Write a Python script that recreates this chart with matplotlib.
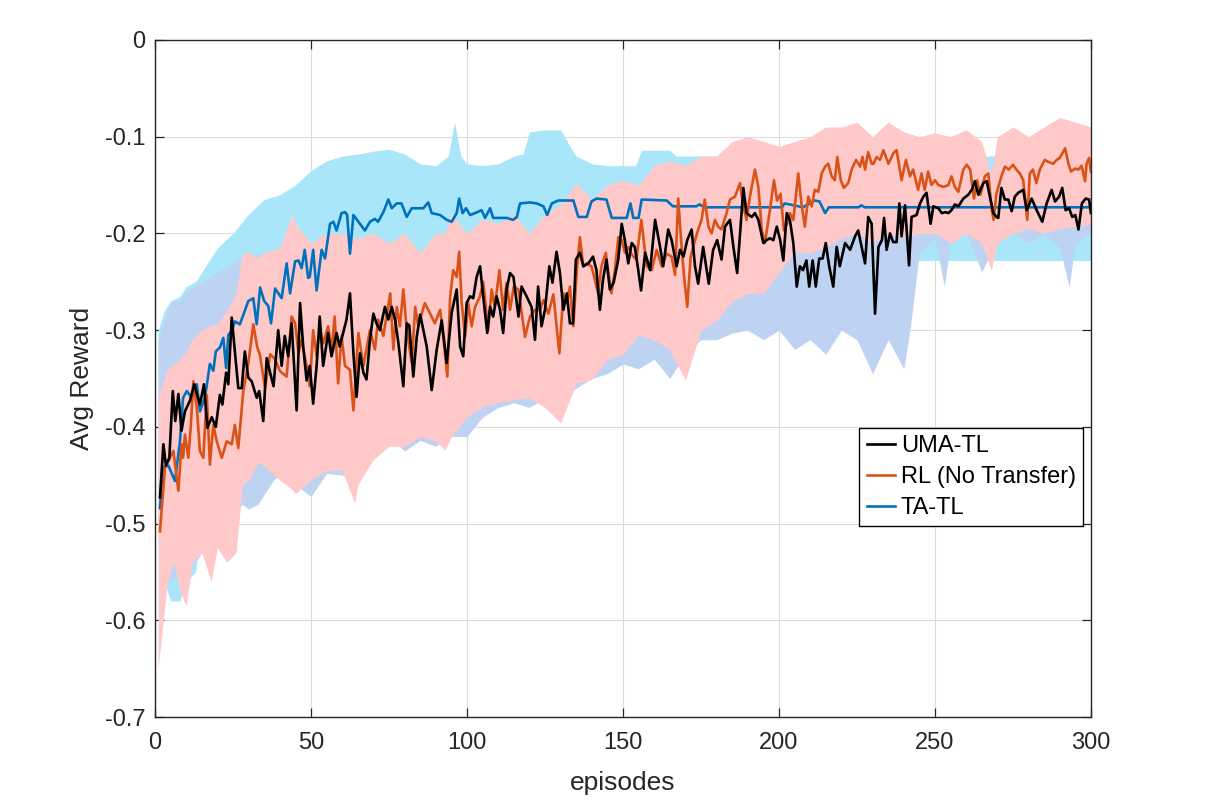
import matplotlib
matplotlib.use('Agg')
import matplotlib.pyplot as plt
from matplotlib.ticker import FuncFormatter

plt.rcParams['font.family'] = ['Liberation Sans', 'DejaVu Sans']
plt.rcParams['axes.unicode_minus'] = False

# ---- mean curves (episode, avg reward) ----
uma_ep = [1.6, 2.7, 3.5, 4.6, 5.7, 6.5, 7.5, 8.5, 9.6, 11.2, 12.6, 14.4, 15.7, 16.8, 18.2, 19.5,
          20.8, 21.6, 22.8, 23.5, 24.6, 25.6, 26.7, 27.8, 28.8, 29.9, 31, 32.6, 33.4, 34.7, 35.8,
          36.9, 38, 39.5, 40.6, 41.6, 42.7, 43.8, 45.4, 46.5, 47.5, 48.6, 49.6, 50.7, 51.8, 52.8,
          53.9, 55.5, 56.6, 58.2, 59.2, 61.4, 62.5, 63.6, 64.6, 65.7, 66.8, 67.8, 68.9, 70, 71,
          72.1, 73.7, 74.8, 75.9, 77, 78, 79.6, 80.7, 81.5, 82.8, 83.9, 85, 87.1, 88.7, 90.3, 91.9,
          93.5, 95.1, 96.7, 97.8, 98.8, 99.9, 101, 102, 103.1, 104.2, 105.2, 106.5, 107.4, 108.4,
          109.5, 110.6, 111.6, 112.7, 113.8, 114.9, 116.5, 117.5, 119.1, 120.7, 121.8, 122.8, 123.9,
          125, 126.4, 127.4, 128.7, 129.8, 130.9, 132, 133, 134, 134.9, 136.2, 137.3, 138.9, 140.4,
          141.5, 142.6, 143.6, 144.7, 145.8, 147, 148.5, 149.6, 150.6, 151.7, 152.8, 153.8, 154.9,
          155.8, 157.1, 158.7, 160.3, 161.9, 162.9, 164.5, 165.6, 167.2, 168.3, 169.4, 170.6, 172,
          173.1, 174.1, 175.7, 177.5, 178.9, 180.2, 181.6, 182.7, 184.3, 185.4, 186.6, 188.6, 189.6,
          191.3, 192.3, 193.4, 195, 196, 197.1, 198.2, 199.3, 200.4, 201.4, 202.5, 203.5, 204.6,
          205.7, 206.7, 207.7, 208.8, 209.7, 210.8, 211.8, 212.9, 214, 215, 216.1, 217.4, 218.5,
          219.5, 221.2, 222.8, 224.4, 225.4, 226.5, 227.6, 228.6, 229.7, 230.8, 231.9, 233, 233.7,
          234.5, 235.6, 236.6, 237.7, 238.6, 239.3, 240.4, 241.7, 242.5, 244.1, 245.2, 246.3, 247.3,
          248.6, 249.5, 251.1, 252.2, 253.3, 254.3, 255.3, 256.4, 257.5, 259.1, 260.7, 261.8, 262.8,
          263.9, 265.5, 266.6, 267.6, 268.7, 269.7, 270.3, 271.3, 272.4, 273.5, 274.6, 275.6, 276.7,
          278.3, 279.4, 281, 282.6, 284.4, 285.8, 287.4, 288.5, 289.8, 290.8, 291.9, 293, 294, 295,
          296, 297.1, 298.3, 299.4, 300]
uma_val = [-0.473, -0.418, -0.44, -0.432, -0.363, -0.394, -0.366, -0.404, -0.384, -0.373, -0.356,
           -0.377, -0.356, -0.401, -0.39, -0.40, -0.367, -0.377, -0.344, -0.356, -0.287, -0.322,
           -0.36, -0.36, -0.322, -0.349, -0.353, -0.37, -0.363, -0.394, -0.329, -0.344, -0.358,
           -0.3, -0.337, -0.306, -0.327, -0.293, -0.383, -0.272, -0.317, -0.352, -0.337, -0.376,
           -0.337, -0.286, -0.337, -0.303, -0.327, -0.303, -0.317, -0.289, -0.262, -0.324, -0.369,
           -0.324, -0.344, -0.351, -0.31, -0.283, -0.293, -0.3, -0.276, -0.289, -0.276, -0.29,
           -0.313, -0.358, -0.293, -0.295, -0.348, -0.307, -0.284, -0.317, -0.362, -0.32, -0.29,
           -0.334, -0.282, -0.258, -0.317, -0.327, -0.272, -0.265, -0.267, -0.245, -0.234, -0.265,
           -0.303, -0.276, -0.286, -0.265, -0.279, -0.303, -0.258, -0.241, -0.245, -0.286, -0.255,
           -0.265, -0.276, -0.31, -0.255, -0.296, -0.279, -0.234, -0.251, -0.219, -0.241, -0.279,
           -0.262, -0.293, -0.293, -0.227, -0.22, -0.234, -0.231, -0.224, -0.238, -0.279, -0.248,
           -0.227, -0.258, -0.251, -0.227, -0.19, -0.207, -0.231, -0.21, -0.214, -0.238, -0.259,
           -0.22, -0.238, -0.186, -0.214, -0.234, -0.196, -0.207, -0.234, -0.217, -0.224, -0.207,
           -0.196, -0.234, -0.252, -0.214, -0.252, -0.217, -0.207, -0.227, -0.193, -0.186, -0.214,
           -0.241, -0.153, -0.179, -0.183, -0.179, -0.186, -0.21, -0.207, -0.205, -0.207, -0.193,
           -0.207, -0.228, -0.179, -0.186, -0.21, -0.255, -0.234, -0.238, -0.228, -0.255, -0.228,
           -0.255, -0.226, -0.226, -0.21, -0.234, -0.255, -0.214, -0.234, -0.21, -0.217, -0.203,
           -0.197, -0.214, -0.231, -0.183, -0.19, -0.283, -0.214, -0.207, -0.184, -0.217, -0.2,
           -0.209, -0.209, -0.169, -0.203, -0.171, -0.233, -0.183, -0.181, -0.169, -0.162, -0.158,
           -0.19, -0.172, -0.174, -0.179, -0.178, -0.179, -0.176, -0.17, -0.172, -0.164, -0.16,
           -0.155, -0.146, -0.16, -0.148, -0.146, -0.162, -0.179, -0.183, -0.184, -0.153, -0.165,
           -0.165, -0.177, -0.162, -0.158, -0.155, -0.176, -0.164, -0.176, -0.188, -0.169, -0.155,
           -0.167, -0.162, -0.153, -0.176, -0.174, -0.183, -0.181, -0.196, -0.169, -0.164, -0.165,
           -0.179]

rl_ep = [1.6, 3.2, 4.8, 5.9, 7.5, 8.5, 9, 9.6, 10.7, 11.5, 12.3, 13.4, 14.4, 15.5, 16.6, 17.6, 18.7,
         19.8, 21.4, 23, 24.6, 25.6, 26.7, 28.3, 29.9, 31.5, 32.8, 33.6, 35.3, 36.9, 38.5, 40, 41,
         42.2, 43.8, 44.9, 46, 47, 48.6, 49.6, 50.7, 51.8, 52.8, 53.9, 55.5, 56.6, 57.6, 58.7, 59.8,
         60.9, 62.5, 63.6, 65.2, 66.8, 68.9, 70.5, 71.5, 73.2, 75.4, 76.4, 77.5, 78.5, 79.6, 80.7,
         82.3, 83.4, 84.4, 85.5, 86.5, 88.2, 89.7, 91.4, 92.4, 93.7, 94.6, 95.6, 96.7, 97.5, 98.3,
         99.4, 100.4, 101.5, 102.6, 104.2, 105.2, 106.8, 107.9, 108.9, 110.4, 111.6, 112.7, 113.8,
         115, 116.5, 118.6, 120.2, 121.8, 123.4, 124.5, 126.1, 127.7, 129.6, 130.9, 132, 133, 134.1,
         135.2, 136.2, 137.3, 138.4, 139.9, 141, 142, 143.1, 144.5, 145.2, 146.3, 147.4, 148.5,
         149.6, 150.6, 151.7, 152.8, 154.3, 155.9, 157.6, 159.2, 160.8, 162.4, 164, 165.6, 166.7,
         167.7, 168.8, 169.6, 170.6, 171.7, 173.1, 174.1, 175.2, 176.2, 177.4, 178.4, 179.5, 180.5,
         181.6, 183.2, 184.3, 185.9, 187.5, 188.6, 189.6, 190.7, 192.3, 193.4, 194.5, 195.5, 197.1,
         198.4, 199.4, 200.5, 201.6, 202.6, 203.5, 204.6, 206.2, 207.2, 208.3, 209.4, 210.5, 211.5,
         212.6, 213.7, 214.8, 215.8, 216.9, 217.9, 218.7, 219.8, 220.8, 222.2, 223.3, 224.7, 226,
         226.8, 227.6, 228.6, 229.7, 230.3, 231.3, 232.4, 233.5, 235.1, 236.7, 237.7, 239.3, 240.7,
         242, 243, 244.6, 245.7, 246.7, 247.8, 248.9, 250, 251.1, 252.7, 254.3, 255.3, 256.4, 257.5,
         259.1, 260.2, 261.3, 262.5, 263.5, 264.6, 266, 267.1, 268.2, 268.8, 269.7, 271.3, 272.4,
         273.7, 275, 276.1, 277.2, 278.3, 279.6, 280.4, 281.4, 282.5, 283.6, 285.2, 286.3, 287.9,
         289, 290, 291.7, 292.8, 293.6, 294.9, 296, 297, 298.1, 298.6, 299.4, 300]
rl_val = [-0.508, -0.442, -0.432, -0.425, -0.466, -0.418, -0.432, -0.408, -0.432, -0.398, -0.353,
          -0.38, -0.425, -0.432, -0.367, -0.439, -0.398, -0.415, -0.432, -0.415, -0.418, -0.398,
          -0.422, -0.363, -0.335, -0.294, -0.318, -0.325, -0.36, -0.325, -0.33, -0.342, -0.345,
          -0.348, -0.286, -0.293, -0.324, -0.31, -0.337, -0.358, -0.3, -0.327, -0.296, -0.314,
          -0.296, -0.32, -0.286, -0.355, -0.306, -0.337, -0.341, -0.383, -0.303, -0.337, -0.3,
          -0.32, -0.289, -0.306, -0.262, -0.32, -0.276, -0.296, -0.258, -0.3, -0.334, -0.276,
          -0.296, -0.283, -0.272, -0.283, -0.293, -0.279, -0.307, -0.348, -0.265, -0.238, -0.245,
          -0.219, -0.272, -0.307, -0.272, -0.296, -0.276, -0.265, -0.25, -0.3, -0.258, -0.276,
          -0.238, -0.279, -0.251, -0.279, -0.255, -0.258, -0.307, -0.286, -0.279, -0.279, -0.269,
          -0.283, -0.263, -0.324, -0.262, -0.272, -0.255, -0.296, -0.238, -0.204, -0.234, -0.231,
          -0.234, -0.248, -0.262, -0.234, -0.22, -0.238, -0.262, -0.238, -0.204, -0.207, -0.22,
          -0.214, -0.222, -0.227, -0.186, -0.234, -0.238, -0.217, -0.234, -0.221, -0.224, -0.243,
          -0.164, -0.214, -0.245, -0.276, -0.224, -0.207, -0.196, -0.186, -0.165, -0.193, -0.2,
          -0.186, -0.193, -0.196, -0.179, -0.165, -0.162, -0.148, -0.172, -0.186, -0.162, -0.134,
          -0.152, -0.197, -0.21, -0.176, -0.145, -0.166, -0.159, -0.197, -0.19, -0.179, -0.186,
          -0.138, -0.169, -0.193, -0.162, -0.172, -0.155, -0.157, -0.138, -0.131, -0.128, -0.141,
          -0.145, -0.121, -0.145, -0.153, -0.148, -0.134, -0.124, -0.131, -0.121, -0.134, -0.116,
          -0.128, -0.128, -0.121, -0.124, -0.114, -0.128, -0.117, -0.114, -0.145, -0.124, -0.141,
          -0.134, -0.155, -0.138, -0.155, -0.136, -0.15, -0.145, -0.15, -0.152, -0.15, -0.141,
          -0.152, -0.157, -0.134, -0.129, -0.134, -0.164, -0.145, -0.16, -0.141, -0.138, -0.175,
          -0.186, -0.159, -0.141, -0.131, -0.134, -0.129, -0.134, -0.138, -0.145, -0.186, -0.138,
          -0.134, -0.148, -0.134, -0.124, -0.126, -0.128, -0.124, -0.122, -0.112, -0.128, -0.136,
          -0.133, -0.134, -0.13, -0.146, -0.128, -0.122, -0.136]

ta_ep = [1.6, 2.7, 4.3, 6.4, 8, 9, 10.2, 11.8, 13.4, 14.4, 16, 17.6, 18.7, 19.5, 20.8, 21.9, 22.8,
         23.5, 24.6, 25.6, 27.2, 28.8, 29.9, 31.5, 32.6, 33.7, 35, 36.3, 37.2, 38.5, 40.6, 42.2,
         43.3, 44.9, 46, 47, 48, 49.1, 49.6, 50.7, 51.8, 53.4, 54.5, 56.1, 57.2, 58.2, 59.8, 60.9,
         61.6, 62.5, 63.6, 65.2, 67.3, 68.9, 70.5, 71.5, 73.2, 74.8, 75.9, 77.5, 79, 80.7, 82.3, 86,
         87.6, 88.7, 91.4, 93.5, 95.1, 96.7, 97.5, 98.6, 99.7, 101, 102.6, 104.7, 105.8, 107.4,
         108.4, 112.7, 114.8, 116, 117, 120.2, 122.3, 124.5, 125.7, 127.2, 129.3, 134.1, 135.7,
         138.4, 139.9, 141.5, 144.7, 146.4, 151.2, 152.4, 153.3, 155, 156, 164, 166, 173.5, 174.6,
         176, 201, 201.8, 207.7, 211.5, 213, 214.8, 216, 225.5, 226.4, 227.5, 300]
ta_val = [-0.484, -0.442, -0.44, -0.456, -0.415, -0.37, -0.363, -0.37, -0.356, -0.384, -0.37,
          -0.335, -0.342, -0.322, -0.318, -0.308, -0.339, -0.305, -0.301, -0.291, -0.294, -0.28,
          -0.27, -0.267, -0.294, -0.256, -0.27, -0.275, -0.293, -0.257, -0.267, -0.231, -0.262,
          -0.229, -0.228, -0.236, -0.217, -0.246, -0.245, -0.217, -0.259, -0.217, -0.226, -0.19,
          -0.188, -0.197, -0.179, -0.178, -0.181, -0.221, -0.181, -0.188, -0.197, -0.188, -0.185,
          -0.188, -0.178, -0.165, -0.174, -0.169, -0.169, -0.183, -0.174, -0.174, -0.168, -0.179,
          -0.181, -0.186, -0.188, -0.179, -0.164, -0.179, -0.174, -0.181, -0.179, -0.176, -0.184,
          -0.174, -0.184, -0.184, -0.186, -0.183, -0.169, -0.168, -0.169, -0.172, -0.181, -0.169,
          -0.166, -0.166, -0.183, -0.183, -0.167, -0.164, -0.165, -0.184, -0.184, -0.169, -0.184,
          -0.184, -0.165, -0.166, -0.172, -0.172, -0.17, -0.173, -0.173, -0.169, -0.173, -0.166,
          -0.167, -0.179, -0.173, -0.173, -0.171, -0.173, -0.173]

# ---- shaded bands (episode, lower, upper) ----
ta_band_ep = [1, 3, 5, 8, 10, 13, 15, 20, 25, 30, 35, 40, 45, 50, 55, 60, 65, 70, 75, 80,
              85, 90, 94, 96, 98, 100, 105, 110, 115, 118, 120, 125, 130, 133, 135, 140, 145, 150,
              154, 156, 160, 165, 167, 170, 180, 190, 200, 210, 220, 240, 260, 280, 300]
ta_hi = [-0.30, -0.28, -0.27, -0.265, -0.255, -0.25, -0.24, -0.215, -0.2, -0.18,
         -0.165, -0.16, -0.15, -0.135, -0.125, -0.12, -0.118, -0.115, -0.113, -0.118,
         -0.128, -0.13, -0.12, -0.085, -0.12, -0.128, -0.13, -0.128, -0.12, -0.118,
         -0.095, -0.093, -0.093, -0.11, -0.12, -0.128, -0.13, -0.13, -0.13, -0.114,
         -0.114, -0.114, -0.12, -0.12, -0.12, -0.12, -0.12, -0.12, -0.12, -0.12,
         -0.12, -0.12, -0.12]
ta_lo = [-0.50, -0.56, -0.58, -0.58, -0.56, -0.55, -0.5, -0.45, -0.42, -0.4,
         -0.38, -0.36, -0.33, -0.31, -0.29, -0.27, -0.25, -0.25, -0.25, -0.25,
         -0.25, -0.25, -0.25, -0.25, -0.25, -0.25, -0.25, -0.25, -0.25, -0.25,
         -0.25, -0.25, -0.25, -0.25, -0.25, -0.25, -0.25, -0.24, -0.235, -0.23,
         -0.228, -0.228, -0.228, -0.228, -0.228, -0.228, -0.228, -0.228, -0.228, -0.228,
         -0.228, -0.228, -0.228]

uma_band_ep = [1, 3, 5, 8, 10, 13, 15, 18, 20, 23, 25, 28, 30, 33, 35, 38, 40, 45, 50, 55,
               60, 65, 70, 75, 80, 85, 90, 95, 100, 105, 110, 115, 120, 125, 130, 135, 140, 145,
               150, 155, 160, 165, 170, 175, 180, 185, 190, 195, 200, 205, 210, 215, 220, 225,
               230, 235, 240, 242, 245, 250, 253, 255, 260, 265, 270, 275, 280, 285, 290, 293,
               295, 300]
uma_hi = [-0.31, -0.29, -0.27, -0.27, -0.26, -0.255, -0.25, -0.245, -0.24, -0.235,
          -0.23, -0.225, -0.23, -0.22, -0.225, -0.22, -0.22, -0.22, -0.23, -0.24,
          -0.24, -0.24, -0.23, -0.23, -0.24, -0.23, -0.23, -0.22, -0.22, -0.21,
          -0.21, -0.2, -0.2, -0.19, -0.19, -0.18, -0.18, -0.18, -0.17, -0.17,
          -0.16, -0.16, -0.16, -0.16, -0.15, -0.15, -0.15, -0.15, -0.15, -0.16,
          -0.16, -0.16, -0.16, -0.15, -0.15, -0.15, -0.15, -0.15, -0.14, -0.14,
          -0.14, -0.14, -0.14, -0.14, -0.14, -0.14, -0.14, -0.14, -0.14, -0.14,
          -0.14, -0.14]
uma_lo = [-0.52, -0.55, -0.56, -0.55, -0.54, -0.54, -0.53, -0.52, -0.5, -0.5,
          -0.49, -0.48, -0.485, -0.48, -0.47, -0.455, -0.45, -0.46, -0.472, -0.448,
          -0.45, -0.45, -0.42, -0.41, -0.425, -0.414, -0.42, -0.41, -0.41, -0.39,
          -0.38, -0.375, -0.38, -0.37, -0.37, -0.36, -0.35, -0.345, -0.335, -0.34,
          -0.33, -0.35, -0.325, -0.31, -0.31, -0.303, -0.3, -0.31, -0.3, -0.32,
          -0.31, -0.325, -0.3, -0.31, -0.345, -0.31, -0.34, -0.3, -0.22, -0.205,
          -0.255, -0.21, -0.2, -0.24, -0.205, -0.2, -0.21, -0.2, -0.215, -0.255,
          -0.21, -0.2]

rl_band_ep = [1, 2, 4, 6, 8, 10, 12, 15, 18, 20, 23, 26, 28, 30, 33, 35, 40, 44, 45, 50,
              55, 60, 64, 65, 70, 75, 80, 85, 90, 93, 95, 100, 105, 110, 115, 120, 125, 130,
              135, 140, 145, 150, 155, 160, 165, 170, 175, 180, 185, 190, 195, 200, 205, 210,
              215, 220, 225, 230, 235, 240, 245, 250, 255, 260, 265, 268, 270, 275, 280, 285,
              290, 295, 300]
rl_hi = [-0.37, -0.36, -0.34, -0.335, -0.33, -0.322, -0.31, -0.3, -0.295, -0.294,
         -0.28, -0.263, -0.22, -0.22, -0.225, -0.22, -0.215, -0.18, -0.19, -0.21,
         -0.2, -0.2, -0.205, -0.205, -0.2, -0.21, -0.2, -0.22, -0.2, -0.2,
         -0.18, -0.2, -0.185, -0.19, -0.18, -0.2, -0.18, -0.17, -0.148, -0.165,
         -0.15, -0.145, -0.15, -0.13, -0.125, -0.13, -0.12, -0.12, -0.105, -0.1,
         -0.105, -0.11, -0.105, -0.1, -0.09, -0.09, -0.085, -0.1, -0.085, -0.095,
         -0.1, -0.096, -0.1, -0.093, -0.105, -0.14, -0.1, -0.09, -0.1, -0.09,
         -0.08, -0.085, -0.09]
rl_lo = [-0.65, -0.62, -0.56, -0.54, -0.57, -0.585, -0.54, -0.53, -0.56, -0.525,
         -0.54, -0.53, -0.46, -0.455, -0.437, -0.44, -0.455, -0.465, -0.469, -0.455,
         -0.445, -0.445, -0.479, -0.46, -0.434, -0.42, -0.42, -0.41, -0.415, -0.424,
         -0.41, -0.39, -0.379, -0.375, -0.372, -0.37, -0.38, -0.396, -0.355, -0.351,
         -0.33, -0.325, -0.305, -0.31, -0.32, -0.352, -0.3, -0.29, -0.27, -0.262,
         -0.262, -0.24, -0.22, -0.22, -0.214, -0.205, -0.2, -0.21, -0.2, -0.205,
         -0.2, -0.2, -0.21, -0.2, -0.21, -0.238, -0.21, -0.2, -0.195, -0.2,
         -0.195, -0.193, -0.19]

x_ticks = [0, 50, 100, 150, 200, 250, 300]
y_ticks = [-0.7, -0.6, -0.5, -0.4, -0.3, -0.2, -0.1, 0]

fig = plt.figure(figsize=(12.08, 8.07), dpi=100)
ax = fig.add_axes([0.1283, 0.1115, 0.7748, 0.839])

# bands: cyan underneath, then light blue, pink on top
ax.fill_between(ta_band_ep, ta_lo, ta_hi, color='#aae6f9', linewidth=0, zorder=1)
ax.fill_between(uma_band_ep, uma_lo, uma_hi, color='#bed3f2', linewidth=0, zorder=2)
ax.fill_between(rl_band_ep, rl_lo, rl_hi, color='#ffc9c9', linewidth=0, zorder=3)

l_ta, = ax.plot(ta_ep, ta_val, color='#0072bd', lw=1.9, zorder=4, label='TA-TL')
l_rl, = ax.plot(rl_ep, rl_val, color='#d95319', lw=1.9, zorder=5, label='RL (No Transfer)')
l_uma, = ax.plot(uma_ep, uma_val, color='black', lw=1.9, zorder=6, label='UMA-TL')

ax.set_xlim(0, 300)
ax.set_ylim(-0.7, 0)
ax.set_xticks(x_ticks)
ax.set_yticks(y_ticks)
fmt = FuncFormatter(lambda v, p: f'{v:g}')
ax.xaxis.set_major_formatter(fmt)
ax.yaxis.set_major_formatter(fmt)

ax.set_axisbelow(True)
ax.grid(True, color='#dcdcdc', linewidth=0.8)
ax.tick_params(direction='in', length=6.5, width=0.9, top=True, right=True,
               labelsize=17, colors='#262626')
ax.tick_params(axis='x', pad=11)
ax.tick_params(axis='y', pad=7)
for s in ax.spines.values():
    s.set_color('#262626')
    s.set_linewidth(1.0)
    s.set_zorder(10)

ax.set_xlabel('episodes', fontsize=19, color='#262626', labelpad=12)
ax.set_ylabel('Avg Reward', fontsize=19, color='#262626', labelpad=8)

leg = ax.legend(handles=[l_uma, l_rl, l_ta], loc='upper right',
                bbox_to_anchor=(0.9915, 0.427), fontsize=17, frameon=True,
                fancybox=False, framealpha=1, edgecolor='black', handlelength=1.2,
                handletextpad=0.25, borderpad=0.3, labelspacing=0.38, borderaxespad=0)
leg.get_frame().set_linewidth(1.0)
leg.set_zorder(20)

fig.savefig('out.png', dpi=100)
